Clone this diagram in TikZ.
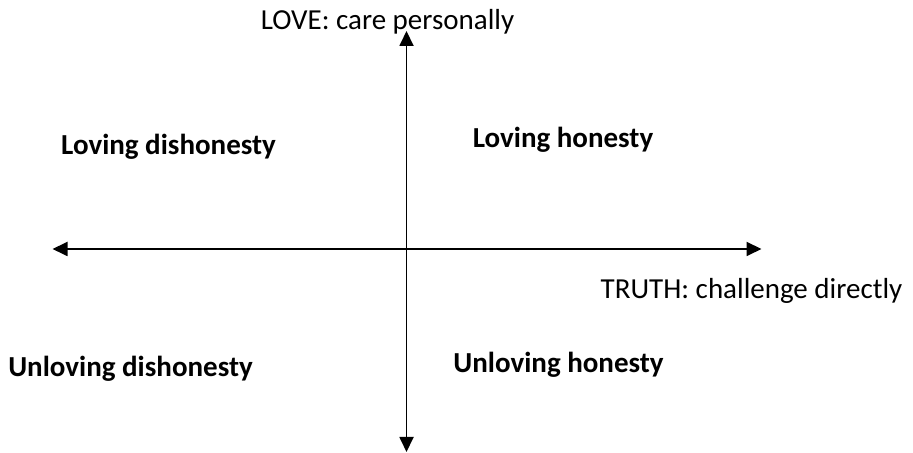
\documentclass[tikz,border=0pt]{standalone}
\usepackage{fontspec}
\setmainfont{Carlito}
\usetikzlibrary{arrows.meta}
\begin{document}
\begin{tikzpicture}[x=0.5pt,y=0.5pt,
  axis/.style={line width=0.9pt,{Triangle[length=7.5pt,width=7pt]}-{Triangle[length=7.5pt,width=7pt]}},
  axlabel/.style={font=\fontsize{14.5}{17}\selectfont,inner sep=0pt,anchor=base},
  quad/.style={font=\fontsize{14.5}{17}\selectfont\bfseries,inner sep=0pt,anchor=base}]
\useasboundingbox (0,0) rectangle (913,453);
\coordinate (top) at (406.5,422);
\coordinate (bottom) at (406.5,1);
\coordinate (left) at (52.5,204);
\coordinate (right) at (761.5,204);
\draw[axis] (bottom) -- (top);
\draw[axis] (left) -- (right);
\node[axlabel] (love) at (387.5,423) {LOVE: care personally};
\node[axlabel] (truth) at (751.5,154) {TRUTH: challenge directly};
\node[quad] (ld) at (168.5,298) {Loving dishonesty};
\node[quad] (lh) at (563,305) {Loving honesty};
\node[quad] (ud) at (130.5,76) {Unloving dishonesty};
\node[quad] (uh) at (558.5,80) {Unloving honesty};
\end{tikzpicture}
\end{document}
